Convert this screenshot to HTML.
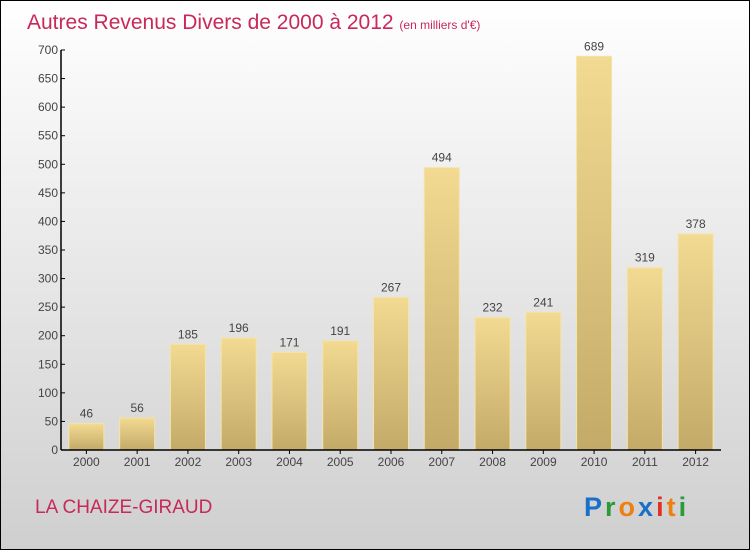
<!DOCTYPE html>
<html><head><meta charset="utf-8"><style>
html,body{margin:0;padding:0;}
body{width:750px;height:550px;overflow:hidden;font-family:"Liberation Sans",sans-serif;}
</style></head><body>
<svg width="750" height="550" xmlns="http://www.w3.org/2000/svg">
<defs>
<linearGradient id="bg" x1="0" y1="0" x2="0" y2="1"><stop offset="0" stop-color="#ffffff"/><stop offset="1" stop-color="#cfcfcf"/></linearGradient>
<linearGradient id="bar" x1="0" y1="0" x2="0" y2="1"><stop offset="0" stop-color="#f2da92"/><stop offset="1" stop-color="#c4aa68"/></linearGradient>
</defs>
<rect x="0.5" y="0.5" width="749" height="549" fill="url(#bg)" stroke="#000"/>
<text x="27" y="29" font-size="21" fill="#c8285a">Autres Revenus Divers de 2000 à 2012 <tspan font-size="12">(en milliers d'€)</tspan></text>
<g id="bars"></g>
<g id="axes"></g>
<text x="35" y="513" font-size="19" fill="#c8285a">LA CHAIZE-GIRAUD</text>
<g font-size="27" font-weight="bold" font-family="'Liberation Sans',sans-serif">
<text x="584" y="516" letter-spacing="3"><tspan fill="#1a6fc8">P</tspan><tspan fill="#2a9a3a">r</tspan><tspan fill="#f07f10">o</tspan><tspan fill="#1a6fc8">x</tspan><tspan fill="#e03020">i</tspan><tspan fill="#f07f10">t</tspan><tspan fill="#2a9a3a">i</tspan></text>
</g>
</svg>
<script>
const years=["2000","2001","2002","2003","2004","2005","2006","2007","2008","2009","2010","2011","2012"];
const values=[46,56,185,196,171,191,267,494,232,241,689,319,378];
const ticks=[0,50,100,150,200,250,300,350,400,450,500,550,600,650,700];
const NS="http://www.w3.org/2000/svg";
const x0=61,x1=721,yb=450,yt=50,ymax=700;
const slot=(x1-x0)/years.length,bw=35;
const y=v=>yb-(v/ymax)*(yb-yt);
const xc=i=>x0+slot*(i+0.5);
function mk(t,a,p){const e=document.createElementNS(NS,t);for(const k in a)e.setAttribute(k,a[k]);p.appendChild(e);return e;}
const gb=document.getElementById('bars'),ga=document.getElementById('axes');
values.forEach((v,i)=>{
 const r=mk('rect',{x:xc(i)-bw/2,y:y(v),width:bw,height:yb-y(v),fill:'url(#bar)',stroke:'#f5e4a8','stroke-width':1},gb);
 
 
 const t=mk('text',{x:xc(i),y:y(v)-6,'text-anchor':'middle','font-size':12,fill:'#444'},gb);
 t.textContent=v;
 
 
 const l=mk('text',{x:xc(i),y:466,'text-anchor':'middle','font-size':12,fill:'#444'},ga);
 l.textContent=years[i];
 
 
 const tk=mk('line',{x1:xc(i),x2:xc(i),y1:yb,y2:yb+4,stroke:'#000'},ga);
 
 
});
ticks.forEach(v=>{
 const tk=mk('line',{x1:x0,x2:x0+4,y1:y(v),y2:y(v),stroke:'#000'},ga);
 
 
 const l=mk('text',{x:x0-3,y:y(v)+4,'text-anchor':'end','font-size':12,fill:'#444'},ga);
 l.textContent=v;
 
 
});
const ya=mk('line',{x1:x0,x2:x0,y1:yt,y2:yb,stroke:'#000','stroke-width':1.5},ga);


const xa=mk('line',{x1:x0,x2:x1,y1:yb,y2:yb,stroke:'#000','stroke-width':1.5},ga);


</script>
</body></html>
